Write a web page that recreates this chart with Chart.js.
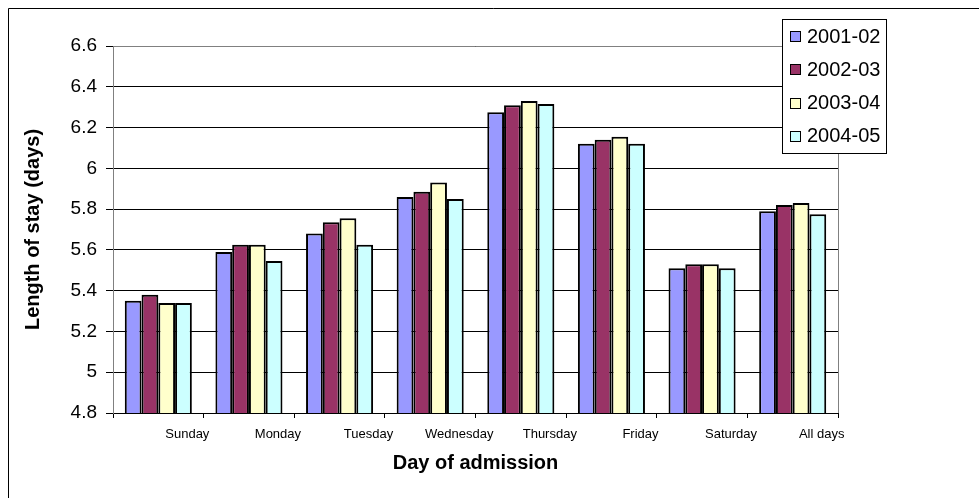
<!DOCTYPE html>
<html lang="en">
<head>
    <meta charset="UTF-8">
    <title>Length of stay by day of admission</title>
    <script src="https://cdn.jsdelivr.net/npm/chart.js@4.4.3/dist/chart.umd.min.js"></script>
    <style>
        body { margin: 0; background: #fff; }
    </style>
</head>

<body>
    <canvas id="chart" width="979" height="498"></canvas>
    <script>
        const FONT = "'Liberation Sans', Arial, sans-serif";

        const days = ['Sunday', 'Monday', 'Tuesday', 'Wednesday', 'Thursday', 'Friday', 'Saturday', 'All days'];
        const years = ['2001-02', '2002-03', '2003-04', '2004-05'];
        const colours = ['#9999ff', '#993366', '#ffffcc', '#ccffff'];

        // average length of stay (days)
        const stay0102 = [5.35, 5.59, 5.68, 5.86, 6.275, 6.12, 5.51, 5.79];
        const stay0203 = [5.38, 5.625, 5.735, 5.885, 6.31, 6.14, 5.53, 5.82];
        const stay0304 = [5.34, 5.625, 5.755, 5.93, 6.33, 6.155, 5.53, 5.83];
        const stay0405 = [5.34, 5.545, 5.625, 5.85, 6.315, 6.12, 5.51, 5.775];
        const series = [stay0102, stay0203, stay0304, stay0405];

        const yTicks = { min: 4.8, max: 6.6, step: 0.2 };

        // white page + outer frame
        const frame = {
            id: 'frame',
            beforeDraw(chart) {
                const c = chart.ctx;
                c.save();
                c.fillStyle = '#fff';
                c.fillRect(0, 0, chart.width, chart.height);
                c.strokeStyle = '#000';
                c.lineWidth = 1;
                c.beginPath();
                c.moveTo(8.5, chart.height);
                c.lineTo(8.5, 8.5);
                c.lineTo(chart.width, 8.5);
                c.stroke();
                c.restore();
            },
            // grey plot-area edge on top and right
            beforeDatasetsDraw(chart) {
                const a = chart.chartArea;
                const c = chart.ctx;
                c.save();
                c.strokeStyle = '#808080';
                c.lineWidth = 1;
                c.beginPath();
                c.moveTo(a.left, Math.round(a.top) + 0.5);
                c.lineTo(Math.round(a.right) + 0.5, Math.round(a.top) + 0.5);
                c.lineTo(Math.round(a.right) + 0.5, a.bottom);
                c.stroke();
                c.restore();
            }
        };

        // boxed legend sitting over the top right corner of the plot
        const boxLegend = {
            id: 'boxLegend',
            afterDraw(chart) {
                const c = chart.ctx;
                const x = 782, y = 19, w = 104, h = 134, rowH = 33.3;
                c.save();
                c.fillStyle = '#fff';
                c.fillRect(x, y, w, h);
                c.strokeStyle = '#000';
                c.lineWidth = 1;
                c.strokeRect(x + 0.5, y + 0.5, w, h);
                c.font = '20px ' + FONT;
                c.textBaseline = 'middle';
                chart.data.datasets.forEach((ds, i) => {
                    const cy = y + 17 + i * rowH;
                    c.fillStyle = ds.backgroundColor;
                    c.fillRect(790, Math.round(cy - 5), 11, 11);
                    c.strokeRect(790.5, Math.round(cy - 5) + 0.5, 10, 10);
                    c.fillStyle = '#000';
                    c.fillText(ds.label, 807, cy + 1);
                });
                c.restore();
            }
        };

        const ctx = document.getElementById('chart').getContext('2d');
        new Chart(ctx, {
            type: 'bar',
            data: {
                labels: days,
                datasets: years.map((yr, i) => ({
                    label: yr,
                    data: series[i],
                    backgroundColor: colours[i],
                    borderColor: '#000',
                    borderWidth: 2,
                    categoryPercentage: 0.74,
                    barPercentage: 1.0
                }))
            },
            plugins: [frame, boxLegend],
            options: {
                responsive: false,
                animation: false,
                layout: {
                    padding: { left: 0, top: 46, right: 141, bottom: 0 }
                },
                plugins: {
                    legend: { display: false },
                    tooltip: { enabled: false }
                },
                scales: {
                    x: {
                        afterFit(scale) { scale.height = 85; },
                        grid: {
                            display: true,
                            drawOnChartArea: false,
                            offset: true,
                            tickLength: 5,
                            tickColor: '#000'
                        },
                        border: { color: '#000', width: 1 },
                        ticks: {
                            color: '#000',
                            font: { family: FONT, size: 13 },
                            labelOffset: 29,
                            padding: 9,
                            autoSkip: false,
                            maxRotation: 0
                        },
                        title: {
                            display: true,
                            text: 'Day of admission',
                            color: '#000',
                            font: { family: FONT, size: 20, weight: 'bold' },
                            padding: { top: 0, bottom: 23 }
                        }
                    },
                    y: {
                        min: yTicks.min,
                        max: yTicks.max,
                        afterFit(scale) { scale.width = 113; },
                        grid: {
                            color: '#000',
                            lineWidth: 1,
                            tickLength: 7,
                            tickColor: '#000'
                        },
                        border: { color: '#808080', width: 1 },
                        ticks: {
                            stepSize: yTicks.step,
                            color: '#000',
                            padding: 9,
                            font: { family: FONT, size: 19 },
                            callback: v => String(+v.toFixed(1))
                        },
                        title: {
                            display: true,
                            text: 'Length of stay (days)',
                            color: '#000',
                            font: { family: FONT, size: 20, weight: 'bold' },
                            padding: { top: 21, bottom: 0 }
                        }
                    }
                }
            }
        });
    </script>
</body>

</html>
